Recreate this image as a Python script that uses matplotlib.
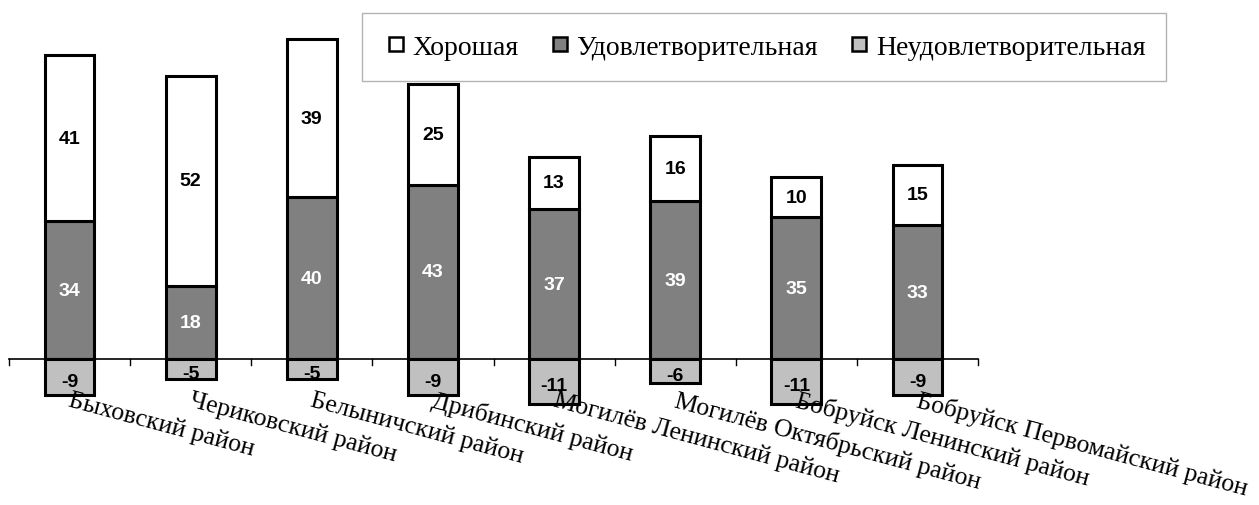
import matplotlib
matplotlib.use("Agg")
import matplotlib.pyplot as plt
from matplotlib.lines import Line2D
import numpy as np

categories = ["Быховский район", "Чериковский район", "Белыничский район", "Дрибинский район",
              "Могилёв Ленинский район", "Могилёв Октябрьский район", "Бобруйск Ленинский район",
              "Бобруйск Первомайский район"]
good = [41, 52, 39, 25, 13, 16, 10, 15]
satisfactory = [34, 18, 40, 43, 37, 39, 35, 33]
unsatisfactory = [-9, -5, -5, -9, -11, -6, -11, -9]
series_names = ["Хорошая", "Удовлетворительная", "Неудовлетворительная"]
series_colors = ["white", "#808080", "#c0c0c0"]

W, H = 1259, 506
fig = plt.figure(figsize=(W / 100, H / 100), dpi=100)
px_per_unit = 4.05
axis_y = 360
ax = fig.add_axes([9 / W, 0, 969 / W, 1])
ax.set_xlim(0, len(categories))
ax.set_ylim(-(H - axis_y) / px_per_unit, axis_y / px_per_unit)
ax.axis("off")

x = np.arange(len(categories)) + 0.5
bw = 0.41
kw = dict(width=bw, edgecolor="black", linewidth=2.2, zorder=3)
ax.bar(x, satisfactory, color=series_colors[1], **kw)
ax.bar(x, good, bottom=satisfactory, color=series_colors[0], **kw)
ax.bar(x, unsatisfactory, color=series_colors[2], **kw)

# axis line and ticks
ax.plot([0, len(categories)], [0, 0], color="black", lw=1.2, zorder=4, clip_on=False)
for b in range(len(categories) + 1):
    ax.plot([b, b], [0, -6 / px_per_unit], color="black", lw=1, zorder=4, clip_on=False)

lab_font = dict(family="Liberation Sans", weight="bold", fontsize=14)
for xi, s, g, u in zip(x, satisfactory, good, unsatisfactory):
    ax.text(xi, s / 2, str(s), ha="center", va="center", color="white", zorder=5, **lab_font)
    ax.text(xi, s + g / 2, str(g), ha="center", va="center", color="black", zorder=5, **lab_font)
    ax.text(xi, u / 2 - 1, str(u), ha="center", va="center", color="black", zorder=5, **lab_font)

for xi, c in zip(x, categories):
    ax.text(xi + 0.02, -29 / px_per_unit, c, rotation=-15, rotation_mode="anchor",
            ha="left", va="top", family="Liberation Serif", fontsize=18.5, zorder=6)

handles = [Line2D([], [], ls="none", marker="s", markersize=10, markerfacecolor=c,
                  markeredgecolor="black", markeredgewidth=1.8) for c in series_colors]
leg = fig.legend(handles, series_names, loc="upper left", bbox_to_anchor=(362 / W, 1 - 14 / H),
                 ncol=3, frameon=True, fancybox=False, prop=dict(family="Liberation Serif", size=20),
                 handlelength=0.9, handletextpad=0.15, columnspacing=1.03,
                 borderpad=0.76, borderaxespad=0)
leg.get_frame().set_edgecolor("#a0a0a0")
leg.get_frame().set_linewidth(1)

fig.savefig("out.png", dpi=100)
